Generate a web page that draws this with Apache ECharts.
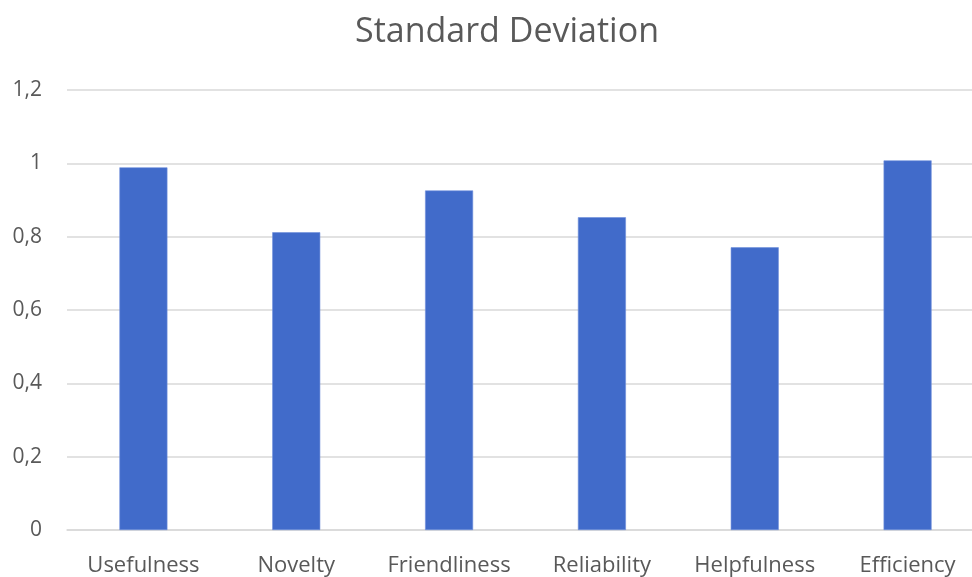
<!DOCTYPE html>
<html>
<head>
<meta charset="utf-8">
<script src="https://cdn.jsdelivr.net/npm/echarts@6/dist/echarts.min.js"></script>
<style>
  html, body { margin: 0; padding: 0; background: #ffffff; overflow: hidden; width: 972px; height: 577px; }
  /* chart canvas is slightly wider than the page; its right edge is cut off */
  #chart { width: 984px; height: 577px; }
</style>
</head>
<body>
<div id="chart"></div>
<script>
// Standard deviation per rated dimension
const categories = ['Usefulness', 'Novelty', 'Friendliness', 'Reliability', 'Helpfulness', 'Efficiency'];
const stdDev = [0.989, 0.812, 0.926, 0.853, 0.771, 1.008];
const yTickLabels = ['0', '0,2', '0,4', '0,6', '0,8', '1', '1,2'];

const FONT = 'Open Sans';
const TEXT = '#595959';

const chart = echarts.init(document.getElementById('chart'), null, { renderer: 'canvas' });
chart.setOption({
  animation: false,
  backgroundColor: '#ffffff',
  title: {
    text: 'Standard Deviation',
    left: 502,
    textAlign: 'center',
    top: 10,
    textStyle: { fontFamily: FONT, fontSize: 34, fontWeight: 'normal', color: TEXT }
  },
  grid: { left: 67, right: 0, top: 90, bottom: 45.5, containLabel: false },
  xAxis: {
    type: 'category',
    data: categories,
    axisTick: { show: false },
    axisLine: { lineStyle: { color: '#d9d9d9', width: 1.5 } },
    axisLabel: { fontFamily: FONT, fontSize: 22, color: TEXT, margin: 25, interval: 0 }
  },
  yAxis: {
    type: 'value',
    min: 0,
    max: 1.2,
    interval: 0.2,
    axisLine: { show: false },
    axisTick: { show: false },
    splitLine: { lineStyle: { color: '#d9d9d9', width: 1.5 } },
    axisLabel: {
      fontFamily: FONT, fontSize: 21, color: TEXT, margin: 25,
      formatter: (v, i) => yTickLabels[i]
    }
  },
  series: [{
    type: 'bar',
    data: stdDev,
    barWidth: 48,
    itemStyle: { color: '#416BCA', borderColor: '#6E8FDB', borderWidth: 0.6 }
  }]
});
</script>
</body>
</html>
